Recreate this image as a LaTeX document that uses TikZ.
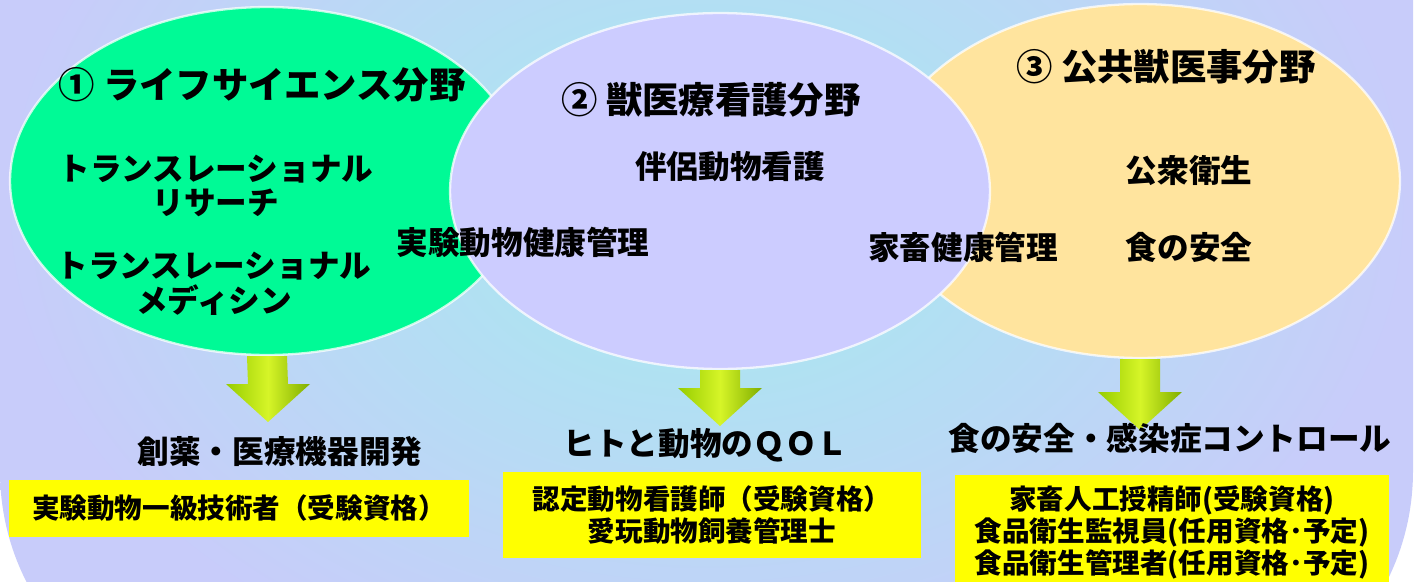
\documentclass[tikz,border=0pt]{standalone}
\usepackage{fontspec}
\setmainfont{Noto Sans CJK JP}
\usetikzlibrary{calc,shapes.geometric}
\definecolor{bglav}{RGB}{200,204,250}
\definecolor{bgcyan}{RGB}{164,236,238}
\definecolor{lifegreen}{RGB}{0,250,150}
\definecolor{nurselav}{RGB}{204,204,255}
\definecolor{pubyellow}{RGB}{255,228,158}
\definecolor{arrowgreen}{RGB}{150,204,0}
\definecolor{arrowlight}{RGB}{214,245,40}
\definecolor{certyellow}{RGB}{255,255,0}
\def\fatarrow(#1)(#2){\shade[arrowshade] ($(#1)+(-20,0)$) -- ($(#1)+(20,0)$) -- ($(#2)+(20,-38)$) -- ($(#2)+(42,-38)$) -- (#2) -- ($(#2)+(-42,-38)$) -- ($(#2)+(-20,-38)$) -- cycle;}
\tikzset{
  field/.style={ellipse, inner sep=0pt, draw=white, draw opacity=0.75, line width=1.3pt},
  fieldtitle/.style={font=\bfseries\fontsize{20.7}{24}\selectfont},
  fielditem/.style={font=\bfseries\fontsize{18}{19.8}\selectfont, align=center},
  outcome/.style={font=\bfseries\fontsize{18}{20}\selectfont},
  certbox/.style={fill=certyellow, inner sep=0pt, align=center, font=\bfseries\fontsize{15.7}{18.2}\selectfont},
  arrowshade/.style={left color=arrowgreen, right color=arrowgreen!85!black, middle color=arrowlight}
}

\begin{document}
\begin{tikzpicture}[x=0.02cm, y=-0.02cm]
			%%%%% START %%%%%
			\useasboundingbox (0,0) rectangle (1418,582);
			
			\begin{scope}
			\clip (0,0) rectangle (1418,582);
			\shade[inner color=bgcyan, outer color=bglav, rounded corners=4.9cm] (0,-300) rectangle (1413,716);
			\end{scope}
			
			%% the three fields
			\node[field, fill=lifegreen, minimum width=10.28cm, minimum height=6.96cm] (life) at (267,181) {};
			\node[field, fill=pubyellow, minimum width=10.4cm, minimum height=7.08cm] (pub) at (1140,181) {};
			\node[field, fill=nurselav, minimum width=10.8cm, minimum height=7.12cm] (nurse) at (720,191) {};
			
			\node[fieldtitle] (lifetitle) at (262,85) {① ライフサイエンス分野};
			\node[fielditem] (lifeA) at (216,186) {トランスレーショナル\\リサーチ};
			\node[fielditem] (lifeB) at (214,284) {トランスレーショナル\\メディシン};
			
			\node[fieldtitle] (nursetitle) at (711,100) {② 獣医療看護分野};
			\node[fielditem] (nurseA) at (730,167) {伴侶動物看護};
			\node[fielditem] (nurseB) at (523,242) {実験動物健康管理};
			\node[fielditem] (nurseC) at (963,247) {家畜健康管理};
			
			\node[fieldtitle] (pubtitle) at (1166,67) {③ 公共獣医事分野};
			\node[fielditem] (pubA) at (1189,171) {公衆衛生};
			\node[fielditem] (pubB) at (1189,247) {食の安全};
			
			%% arrows down
			\coordinate (lifetip) at (268,422);
			\coordinate (nursetip) at (720,426);
			\coordinate (pubtip) at (1140,430);
			\fatarrow(life.south)(lifetip);
			\fatarrow(nurse.south)(nursetip);
			\fatarrow(pub.south)(pubtip);
			
			\node[outcome] (lifeout) at (280,452) {創薬・医療機器開発};
			\node[outcome] (nurseout) at (706,445) {ヒトと動物のＱＯＬ};
			\node[outcome] (pubout) at (1170,438) {食の安全・感染症コントロール};
			
			%% qualifications
			\node[certbox, minimum width=9.2cm, minimum height=1.14cm] (lifecert) at (239,508) {実験動物一級技術者（受験資格）};
			\node[certbox, minimum width=8.36cm, minimum height=1.72cm] (nursecert) at (712,515) {認定動物看護師（受験資格）\\愛玩動物飼養管理士};
			\node[certbox, minimum width=8.7cm, minimum height=2.3cm] (pubcert) at (1172,532) {家畜人工授精師(受験資格)\\食品衛生監視員(任用資格･予定)\\食品衛生管理者(任用資格･予定)};
			
			%%%%% END %%%%%
		\end{tikzpicture}
\end{document}
